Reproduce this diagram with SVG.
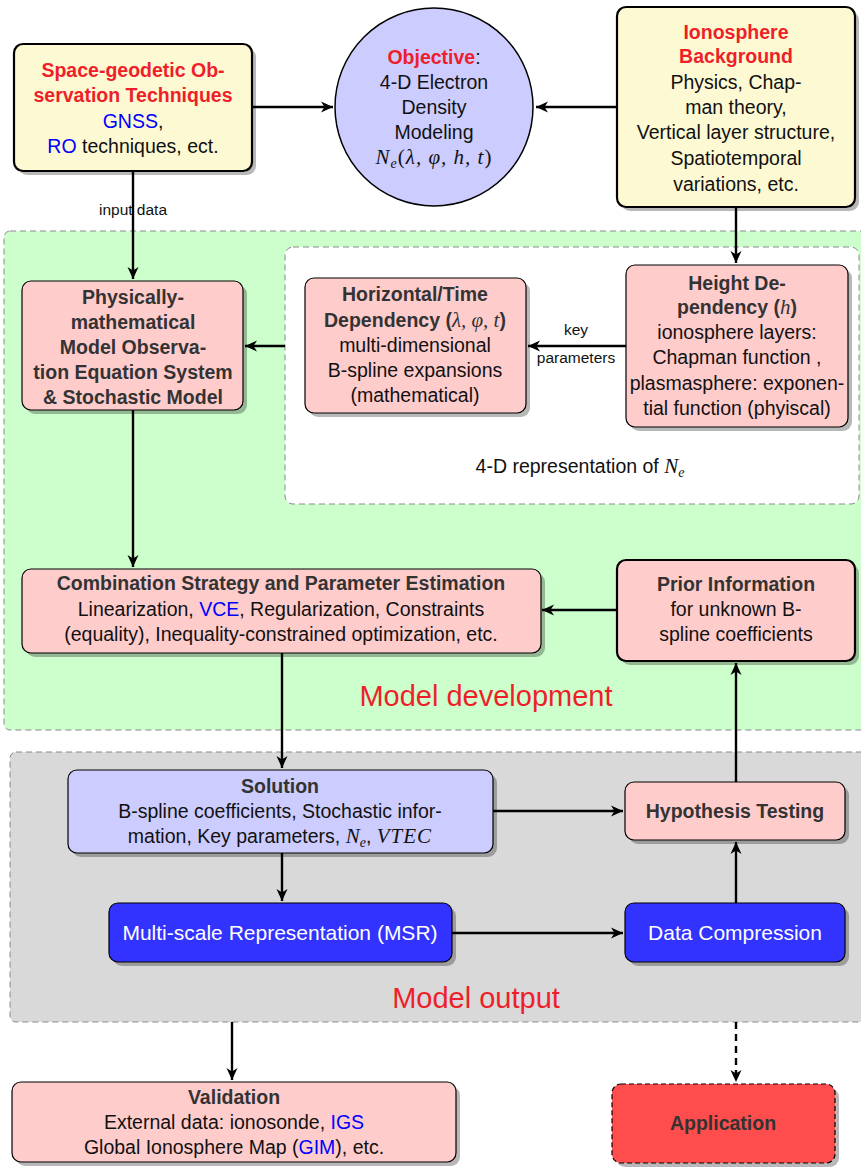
<svg xmlns="http://www.w3.org/2000/svg" width="861" height="1167" viewBox="0 0 861 1167">
<style>
.t{font-family:"Liberation Sans","DejaVu Sans",sans-serif;font-size:19.5px;fill:#111;text-anchor:middle}
.b{font-weight:bold}
.d{fill:#333}
.red{fill:#ee1f2a}
.blu{fill:#0000ff}
.m{font-family:"Liberation Serif","DejaVu Serif",serif;font-style:italic;font-weight:normal;font-size:21px}
.sub{font-size:14px}
.sh{fill:#000;opacity:.28}
.y{fill:#fdf9d3;stroke:#000;stroke-width:2.2}
.p{fill:#ffcccc;stroke:#000;stroke-width:1.2}
.pk{fill:#ffcccc;stroke:#000;stroke-width:2.2}
.l{fill:#ccccff;stroke:#000;stroke-width:1.2}
.bl{fill:#3333ff;stroke:#000;stroke-width:1.2}
.wt{fill:#fff;font-size:21px}
.region{stroke:#8a8a8a;stroke-width:1;stroke-dasharray:6 4}
.edge{stroke:#000;stroke-width:2.4;fill:none;marker-end:url(#ah)}
.lbl{font-family:"Liberation Sans","DejaVu Sans",sans-serif;font-size:15.5px;fill:#111;text-anchor:middle}
.big{font-family:"Liberation Sans","DejaVu Sans",sans-serif;font-size:29px;fill:#ee1f2a;text-anchor:middle}
</style>
<defs>
<marker id="ah" markerUnits="userSpaceOnUse" markerWidth="16" markerHeight="14" refX="13" refY="7" orient="auto">
<path d="M1,1.5 L13,7 L1,12.5 L4.5,7 z" fill="#000"/>
</marker>
</defs>
<rect width="861" height="1167" fill="#fff"/>

<g id="regions">
<rect class="region" x="4" y="231" width="880" height="499" rx="6" fill="#ccffcc"/>
<rect class="region" x="285" y="247" width="574" height="257" rx="8" fill="#fff"/>
<rect class="region" x="10" y="752" width="880" height="270" rx="6" fill="#d9d9d9"/>
<text class="big" x="486" y="706">Model development</text>
<text class="big" x="476" y="1008">Model output</text>
<text class="t" x="580" y="473">4-D representation of <tspan class="m">N</tspan><tspan class="m sub" dy="4">e</tspan></text>
</g>

<g id="connectors">
<line class="edge" x1="252" y1="107" x2="333" y2="107"/>
<line class="edge" x1="617" y1="107" x2="536" y2="107"/>
<line class="edge" x1="133" y1="171" x2="133" y2="279"/>
<line class="edge" x1="736" y1="207" x2="736" y2="263"/>
<line class="edge" x1="626" y1="346" x2="528" y2="346"/>
<line class="edge" x1="285" y1="346" x2="245" y2="346"/>
<line class="edge" x1="133" y1="410" x2="133" y2="567"/>
<line class="edge" x1="617" y1="610" x2="542" y2="610"/>
<line class="edge" x1="282" y1="653" x2="282" y2="768"/>
<line class="edge" x1="493" y1="811" x2="623" y2="811"/>
<line class="edge" x1="282" y1="853" x2="282" y2="901"/>
<line class="edge" x1="452" y1="933" x2="623" y2="933"/>
<line class="edge" x1="736" y1="903" x2="736" y2="842"/>
<line class="edge" x1="736" y1="782" x2="736" y2="663"/>
<line class="edge" x1="232" y1="1022" x2="232" y2="1080"/>
<line class="edge" x1="736" y1="1022" x2="736" y2="1082" stroke-dasharray="7 5"/>
<text class="lbl" x="133" y="215">input data</text>
<text class="lbl" x="576" y="335">key</text>
<text class="lbl" x="576" y="363">parameters</text>
</g>

<g id="space-geodetic">
<rect class="sh" x="18" y="48" width="238" height="127" rx="9"/>
<rect class="y" x="14" y="44" width="238" height="127" rx="9"/>
<text class="t b red" x="133" y="77">Space-geodetic Ob-</text>
<text class="t b red" x="133" y="102">servation Techniques</text>
<text class="t" x="133" y="128"><tspan class="blu">GNSS</tspan>,</text>
<text class="t" x="133" y="153"><tspan class="blu">RO</tspan> techniques, ect.</text>
</g>

<g id="objective">
<circle cx="434" cy="107" r="99" fill="#ccccff" stroke="#000" stroke-width="1.5"/>
<text class="t" x="434" y="64"><tspan class="b red">Objective</tspan>:</text>
<text class="t" x="434" y="89">4-D Electron</text>
<text class="t" x="434" y="114">Density</text>
<text class="t" x="434" y="139">Modeling</text>
<text class="t m" x="434" y="164" letter-spacing="1">N<tspan class="sub" dy="4">e</tspan><tspan dy="-4" font-style="normal">(</tspan>λ, φ, h, t<tspan font-style="normal">)</tspan></text>
</g>

<g id="ionosphere-background">
<rect class="sh" x="621" y="11" width="238" height="200" rx="9"/>
<rect class="y" x="617" y="7" width="238" height="200" rx="9"/>
<text class="t b red" x="736" y="39">Ionosphere</text>
<text class="t b red" x="736" y="63">Background</text>
<text class="t" x="736" y="89">Physics, Chap-</text>
<text class="t" x="736" y="114">man theory,</text>
<text class="t" x="736" y="139">Vertical layer structure,</text>
<text class="t" x="736" y="165">Spatiotemporal</text>
<text class="t" x="736" y="191">variations, etc.</text>
</g>

<g id="physically-mathematical">
<rect class="sh" x="26" y="285" width="221" height="129" rx="9"/>
<rect class="p" x="22" y="281" width="221" height="129" rx="9"/>
<text class="t b d" x="133" y="304">Physically-</text>
<text class="t b d" x="133" y="329">mathematical</text>
<text class="t b d" x="133" y="354">Model Observa-</text>
<text class="t b d" x="133" y="379">tion Equation System</text>
<text class="t b d" x="133" y="404">&amp; Stochastic Model</text>
</g>

<g id="horizontal-time">
<rect class="sh" x="309" y="282" width="221" height="135" rx="9"/>
<rect class="p" x="305" y="278" width="221" height="135" rx="9"/>
<text class="t b d" x="415" y="301">Horizontal/Time</text>
<text class="t b d" x="415" y="327">Dependency (<tspan class="m">λ, φ, t</tspan>)</text>
<text class="t" x="415" y="352">multi-dimensional</text>
<text class="t" x="415" y="377">B-spline expansions</text>
<text class="t" x="415" y="402">(mathematical)</text>
</g>

<g id="height-dependency">
<rect class="sh" x="630" y="269" width="222" height="162" rx="9"/>
<rect class="p" x="626" y="265" width="222" height="162" rx="9"/>
<text class="t b d" x="737" y="290">Height De-</text>
<text class="t b d" x="737" y="314">pendency (<tspan class="m">h</tspan>)</text>
<text class="t" x="737" y="339">ionosphere layers:</text>
<text class="t" x="737" y="364">Chapman function ,</text>
<text class="t" x="737" y="390">plasmasphere: exponen-</text>
<text class="t" x="737" y="415">tial function (phyiscal)</text>
</g>

<g id="combination">
<rect class="sh" x="26" y="573" width="519" height="84" rx="9"/>
<rect class="p" x="22" y="569" width="519" height="84" rx="9"/>
<text class="t b d" x="281" y="590">Combination Strategy and Parameter Estimation</text>
<text class="t" x="281" y="616">Linearization, <tspan class="blu">VCE</tspan>, Regularization, Constraints</text>
<text class="t" x="281" y="641">(equality), Inequality-constrained optimization, etc.</text>
</g>

<g id="prior-information">
<rect class="sh" x="621" y="564" width="238" height="101" rx="9"/>
<rect class="pk" x="617" y="560" width="238" height="101" rx="9"/>
<text class="t b d" x="736" y="591">Prior Information</text>
<text class="t" x="736" y="616">for unknown B-</text>
<text class="t" x="736" y="641">spline coefficients</text>
</g>

<g id="solution">
<rect class="sh" x="72" y="774" width="425" height="83" rx="9"/>
<rect class="l" x="68" y="770" width="425" height="83" rx="9"/>
<text class="t b d" x="280" y="793">Solution</text>
<text class="t" x="280" y="818">B-spline coefficients, Stochastic infor-</text>
<text class="t" x="280" y="843">mation, Key parameters, <tspan class="m">N</tspan><tspan class="m sub" dy="4">e</tspan><tspan dy="-4">, </tspan><tspan class="m" letter-spacing="1">VTEC</tspan></text>
</g>

<g id="hypothesis-testing">
<rect class="sh" x="629" y="786" width="220" height="58" rx="9"/>
<rect class="p" x="625" y="782" width="220" height="58" rx="9"/>
<text class="t b d" x="735" y="818">Hypothesis Testing</text>
</g>

<g id="msr">
<rect class="sh" x="113" y="907" width="343" height="59" rx="9"/>
<rect class="bl" x="109" y="903" width="343" height="59" rx="9"/>
<text class="t wt" x="280" y="940">Multi-scale Representation (MSR)</text>
</g>

<g id="data-compression">
<rect class="sh" x="629" y="907" width="220" height="59" rx="9"/>
<rect class="bl" x="625" y="903" width="220" height="59" rx="9"/>
<text class="t wt" x="735" y="940">Data Compression</text>
</g>

<g id="validation">
<rect class="sh" x="16" y="1086" width="444" height="80" rx="9"/>
<rect class="p" x="12" y="1082" width="444" height="80" rx="9"/>
<text class="t b d" x="234" y="1104">Validation</text>
<text class="t" x="234" y="1129">External data: ionosonde, <tspan class="blu">IGS</tspan></text>
<text class="t" x="234" y="1154">Global Ionosphere Map (<tspan class="blu">GIM</tspan>), etc.</text>
</g>

<g id="application">
<rect class="sh" x="616" y="1088" width="223" height="79" rx="9"/>
<rect x="612" y="1084" width="223" height="79" rx="9" fill="#ff4c4c" stroke="#000" stroke-width="1.2" stroke-dasharray="5 3"/>
<text class="t b d" x="723" y="1130">Application</text>
</g>
</svg>
